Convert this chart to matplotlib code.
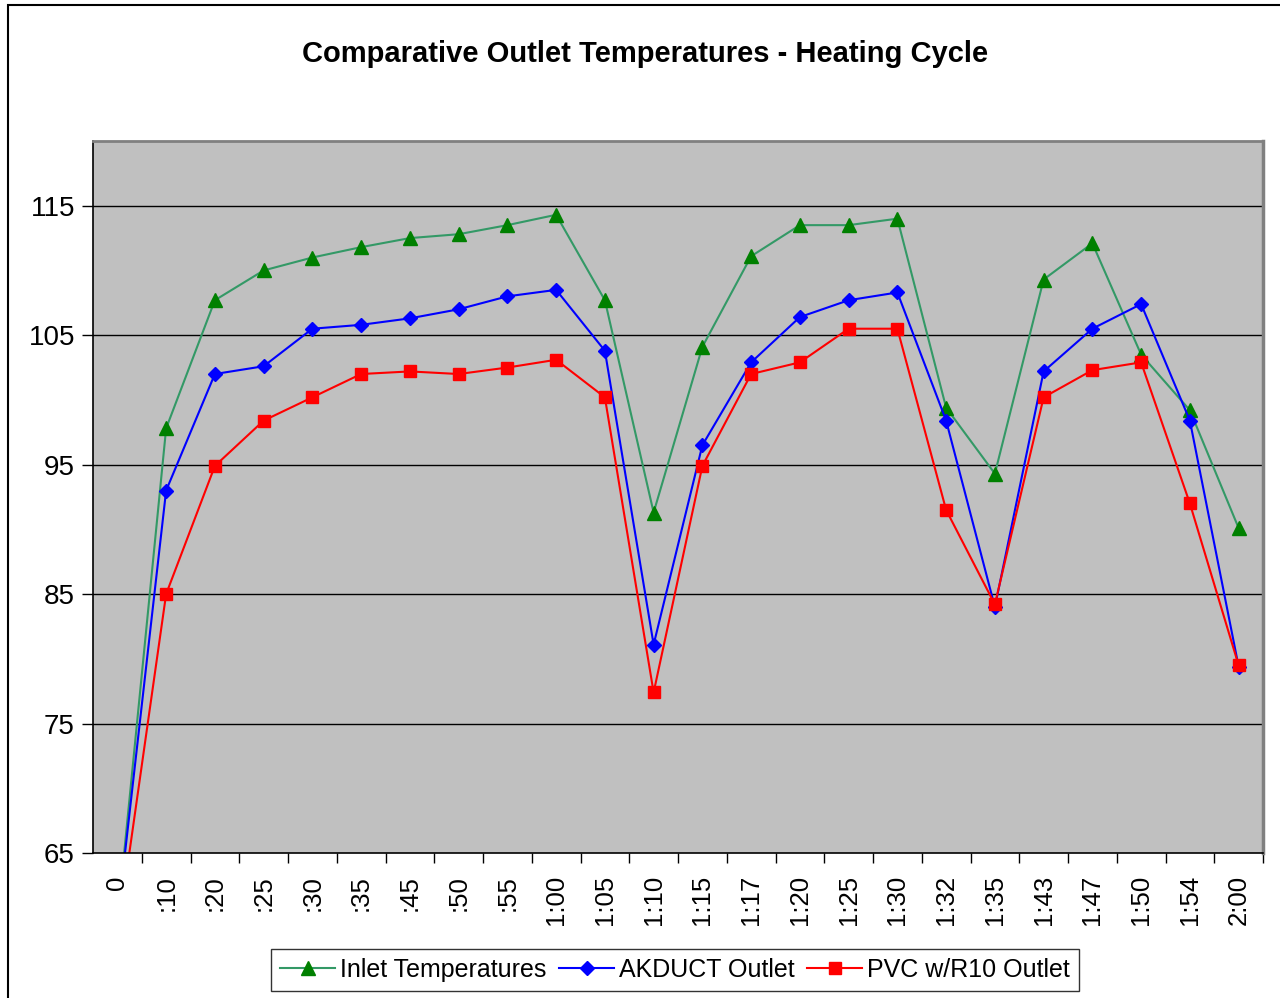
import numpy as np
import matplotlib
matplotlib.use("Agg")
import matplotlib.pyplot as plt
from matplotlib.patches import Rectangle

plt.rcParams['font.family'] = ['Liberation Sans', 'DejaVu Sans']

times = ["0", ":10", ":20", ":25", ":30", ":35", ":45", ":50", ":55", "1:00",
         "1:05", "1:10", "1:15", "1:17", "1:20", "1:25", "1:30", "1:32", "1:35",
         "1:43", "1:47", "1:50", "1:54", "2:00"]

inlet = [59.7, 97.8, 107.7, 110.0, 111.0, 111.8, 112.5, 112.8, 113.5, 114.3,
         107.7, 91.3, 104.1, 111.1, 113.5, 113.5, 114.0, 99.4, 94.3,
         109.3, 112.1, 103.5, 99.2, 90.1]
akduct = [59.8, 93.0, 102.0, 102.6, 105.5, 105.8, 106.3, 107.0, 108.0, 108.5,
          103.8, 81.1, 96.5, 102.9, 106.4, 107.7, 108.3, 98.4, 84.0,
          102.2, 105.5, 107.4, 98.4, 79.4]
pvc = [58.5, 85.0, 94.9, 98.4, 100.2, 102.0, 102.2, 102.0, 102.5, 103.1,
       100.2, 77.4, 94.9, 102.0, 102.9, 105.5, 105.5, 91.5, 84.2,
       100.2, 102.3, 102.9, 92.0, 79.5]

fig = plt.figure(figsize=(12.8, 9.98), dpi=100)
ax = fig.add_axes([93 / 1280, 1 - 853 / 998, (1263 - 93) / 1280, (853 - 141) / 998])
ax.set_facecolor('#C0C0C0')

x = np.arange(len(times))
ax.plot(x, inlet, color='#339966', lw=1.5, marker='^', ms=10,
        mfc='#008000', mec='#008000', label='Inlet Temperatures')
ax.plot(x, akduct, color='#0000FF', lw=1.5, marker='D', ms=7.5,
        mfc='#0000FF', mec='#0000FF', label='AKDUCT Outlet')
ax.plot(x, pvc, color='#FF0000', lw=1.5, marker='s', ms=8.5,
        mfc='#FF0000', mec='#FF0000', label='PVC w/R10 Outlet')

ax.set_xlim(-0.5, len(times) - 0.5)
ax.set_ylim(65, 120)
ax.set_yticks(np.arange(65, 116, 10))
for yv in np.arange(75, 116, 10):
    ax.axhline(yv, color='black', lw=1, zorder=1)

ax.set_xticks(x)
ax.set_xticklabels(times, rotation=90, fontsize=18.5)
ax.set_xticks(np.arange(0.5, len(times), 1), minor=True)
ax.tick_params(axis='x', which='major', length=0, pad=16)
ax.tick_params(axis='x', which='minor', length=7, width=1, direction='out')
ax.tick_params(axis='y', length=8, width=1, direction='out', labelsize=20, pad=5)

for side in ['left', 'bottom']:
    ax.spines[side].set_color('black')
    ax.spines[side].set_linewidth(1.2)
ax.spines['top'].set_color('#808080')
ax.spines['top'].set_linewidth(2)
ax.spines['right'].set_color('#808080')
ax.spines['right'].set_linewidth(2.5)

fig.text(0.504, 1 - 54 / 998, "Comparative Outlet Temperatures - Heating Cycle",
         ha='center', va='center', fontsize=21, fontweight='bold')

leg = fig.legend(loc='center', bbox_to_anchor=(675 / 1280, 1 - 970 / 998), ncol=3,
                 fontsize=18, frameon=True, fancybox=False, edgecolor='black',
                 handlelength=2.2, handletextpad=0.2, columnspacing=0.5,
                 borderpad=0.35)
leg.get_frame().set_linewidth(1)

fig.patches.append(Rectangle((8 / 1280, -0.05), 1.1, 1 - 5 / 998 + 0.05,
                             transform=fig.transFigure, fill=False,
                             edgecolor='black', lw=1.5))

fig.savefig('out.png', dpi=100)
